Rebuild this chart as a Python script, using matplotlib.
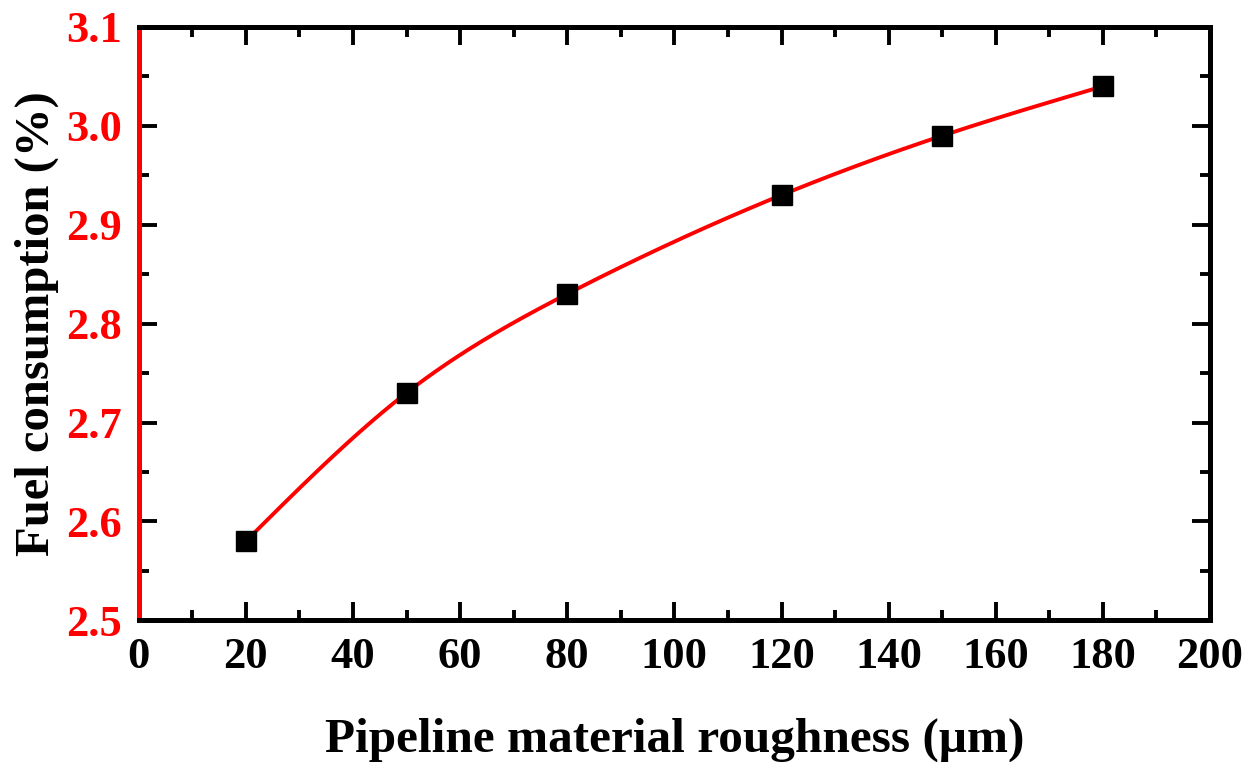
import numpy as np
import matplotlib
matplotlib.use("Agg")
import matplotlib.pyplot as plt
from matplotlib.ticker import MultipleLocator

roughness = [20, 50, 80, 120, 150, 180]
fuel = [2.58, 2.73, 2.83, 2.93, 2.99, 3.04]
x_ticks = [0, 20, 40, 60, 80, 100, 120, 140, 160, 180, 200]
y_ticks = [2.5, 2.6, 2.7, 2.8, 2.9, 3.0, 3.1]


def natural_spline(x, y, xs):
    x = np.asarray(x, float)
    y = np.asarray(y, float)
    n = len(x)
    h = np.diff(x)
    A = np.zeros((n, n))
    b = np.zeros(n)
    A[0, 0] = A[-1, -1] = 1.0
    for i in range(1, n - 1):
        A[i, i - 1] = h[i - 1]
        A[i, i] = 2 * (h[i - 1] + h[i])
        A[i, i + 1] = h[i]
        b[i] = 3 * ((y[i + 1] - y[i]) / h[i] - (y[i] - y[i - 1]) / h[i - 1])
    c = np.linalg.solve(A, b)
    out = np.empty_like(xs)
    for k, xv in enumerate(xs):
        i = min(max(np.searchsorted(x, xv) - 1, 0), n - 2)
        dx = xv - x[i]
        bi = (y[i + 1] - y[i]) / h[i] - h[i] * (2 * c[i] + c[i + 1]) / 3
        di = (c[i + 1] - c[i]) / (3 * h[i])
        out[k] = y[i] + bi * dx + c[i] * dx ** 2 + di * dx ** 3
    return out


plt.rcParams["font.family"] = ["Liberation Serif", "DejaVu Serif"]
plt.rcParams["font.weight"] = "bold"

fig = plt.figure(figsize=(12.5, 7.62), dpi=100)
ax = fig.add_axes([0.111, 0.186, 0.857, 0.7786])

xs = np.linspace(roughness[0], roughness[-1], 400)
ax.plot(xs, natural_spline(roughness, fuel, xs), color="red", lw=2.8, zorder=2)
ax.plot(roughness, fuel, ls="none", marker="s", ms=15, color="black", zorder=3)

ax.set_xlim(0, 200)
ax.set_ylim(2.5, 3.1)
ax.set_xticks(x_ticks)
ax.set_yticks(y_ticks)
ax.xaxis.set_minor_locator(MultipleLocator(10))
ax.yaxis.set_minor_locator(MultipleLocator(0.05))
ax.set_yticklabels([f"{v:.1f}" for v in y_ticks])

for s in ax.spines.values():
    s.set_linewidth(3.6)
ax.spines["left"].set_color("red")

ax.tick_params(which="both", direction="in", top=True, right=True, width=2.8, labelsize=32)
ax.tick_params(which="major", length=13)
ax.tick_params(which="minor", length=7)
ax.tick_params(axis="x", pad=12)
ax.tick_params(axis="y", labelcolor="red", pad=12)
# left-side ticks in red, right-side ticks stay black
for tick in ax.yaxis.get_major_ticks() + ax.yaxis.get_minor_ticks():
    tick.tick1line.set_color("red")
    tick.tick2line.set_color("black")

for lbl in ax.get_xticklabels() + ax.get_yticklabels():
    lbl.set_fontweight("bold")

ax.set_xlabel("Pipeline material roughness (μm)", fontsize=35.5, fontweight="bold", labelpad=29)
ax.set_ylabel("Fuel consumption (%)", fontsize=35, fontweight="bold", labelpad=5)

fig.savefig("out.png", dpi=100)
